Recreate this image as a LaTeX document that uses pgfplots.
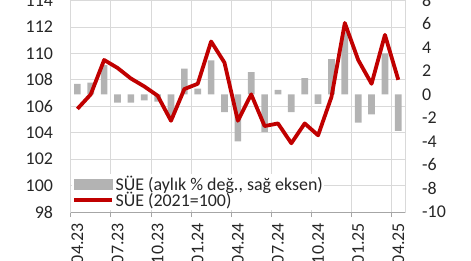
\documentclass[border=0pt]{standalone}
\usepackage{fontspec}
\setmainfont{Carlito}
\usepackage{pgfplots}
\pgfplotsset{compat=1.18}
\definecolor{barg}{HTML}{B3B3B3}
\definecolor{lred}{HTML}{C00000}
\definecolor{gridg}{HTML}{D9D9D9}
\definecolor{axg}{HTML}{A6A6A6}
\definecolor{txt}{HTML}{262626}
\begin{document}
\begin{tikzpicture}
\pgfplotsset{
 common/.style={
   scale only axis, width=334.3bp, height=211.5bp,
   xmin=-0.5, xmax=24.5,
   font=\fontsize{18}{21}\selectfont,
   /pgf/number format/assume math mode=true,
   tick label style={text=txt, inner sep=0pt},
 }
}
% axis 1: left axis with grid
\begin{axis}[common,
  ymin=98, ymax=114, ytick={98,100,...,114},
  ymajorgrids, major grid style={gridg, line width=0.8bp},
  xtick={0,3,...,24},
  xticklabels={04.23,07.23,10.23,01.24,04.24,07.24,10.24,01.25,04.25},
  x tick label style={rotate=90, anchor=east, xshift=-11bp},
  y tick label style={xshift=-17.5bp},
  minor xtick={-0.5,2.5,...,23.5},
  xminorgrids, minor grid style={gridg, line width=0.8bp},
  major tick length=0pt, minor tick length=5bp, tick align=outside,
  xtick pos=left, ytick pos=left,
  minor tick style={axg, line width=0.8bp},
  axis line style={gridg, line width=0.8bp},
]
\coordinate (O) at (rel axis cs:0,0);
\draw[axg, line width=0.8bp] (rel axis cs:0,0) -- (rel axis cs:1,0);
\end{axis}
% axis 2: right axis with bars
\begin{axis}[common,
  ymin=-10, ymax=8, ytick={-10,-8,...,8},
  ytick pos=right, yticklabel pos=right,
  y tick label style={xshift=17bp},
  xtick=\empty, major tick length=0pt,
  axis line style={draw=none},
]
\addplot[ybar, bar width=0.5, fill=barg, draw=none] coordinates {
(0,0.9) (1,1.0) (2,2.5) (3,-0.7) (4,-0.7) (5,-0.5) (6,-0.6) (7,-2.0) (8,2.2) (9,0.5)
(10,2.9) (11,-1.5) (12,-4.0) (13,1.9) (14,-3.2) (15,0.4) (16,-1.5) (17,1.4) (18,-0.8)
(19,3.0) (20,5.3) (21,-2.4) (22,-1.7) (23,3.5) (24,-3.1)};
\end{axis}
% axis 3: line on left scale
\begin{axis}[common, hide axis,
  ymin=98, ymax=114,
  legend style={at={(0.004,0.01)}, anchor=south west, fill=white, draw=none,
    inner sep=0pt, font=\fontsize{18}{18}\selectfont, text=txt,
    nodes={inner sep=1.5bp}, row sep=-2.5bp},
  legend cell align=left,
]
\addlegendimage{legend image code/.code={\fill[barg] (0bp,-5bp) rectangle (38bp,5bp);}}
\addlegendentry{SÜE (aylık \% değ., sağ eksen)}
\addplot[lred, line width=3.8bp, line join=round,
  legend image code/.code={\draw[lred, line width=3.8bp] (0bp,0bp) -- (38bp,0bp);}] coordinates {
(0,105.8) (1,106.9) (2,109.5) (3,108.9) (4,108.1) (5,107.5) (6,106.8) (7,104.9) (8,107.3)
(9,107.7) (10,110.9) (11,109.3) (12,104.9) (13,106.9) (14,104.5) (15,104.7) (16,103.2)
(17,104.7) (18,103.8) (19,106.7) (20,112.3) (21,109.5) (22,107.7) (23,111.4) (24,108.0)};
\addlegendentry{SÜE (2021=100)}
\end{axis}
\pgfresetboundingbox
\path ([shift={(-70.7bp,-49bp)}]O) rectangle ([shift={(400.3bp,212bp)}]O);
\end{tikzpicture}
\end{document}
